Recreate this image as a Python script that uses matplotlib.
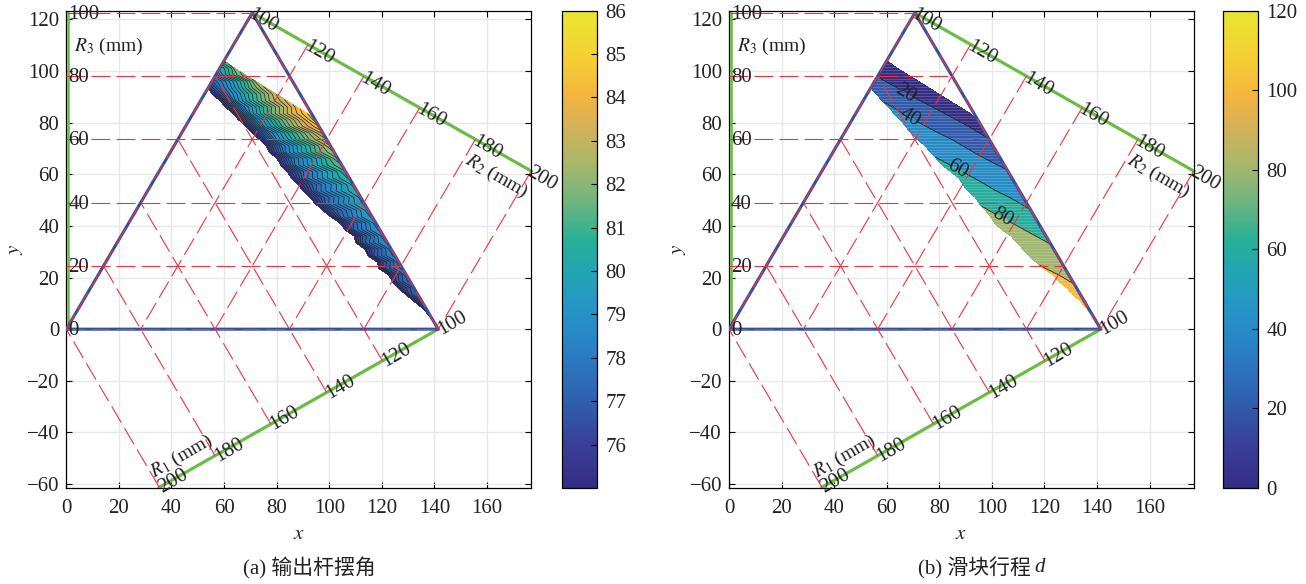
import numpy as np
import matplotlib
matplotlib.use('Agg')
import matplotlib.pyplot as plt
from matplotlib.colors import LinearSegmentedColormap, Normalize
from matplotlib.cm import ScalarMappable
from matplotlib.patches import Polygon

plt.rcParams['font.family'] = ['Liberation Serif', 'Noto Sans CJK SC']
plt.rcParams['mathtext.fontset'] = 'stix'
plt.rcParams['axes.unicode_minus'] = True

W, H = 1306, 584
INK = '#222222'

# rows of the feasible band, y value and x at the right edge
row_y = [103.5, 101, 98.5, 96, 93.5, 91, 88.5, 86, 83.5, 81, 78.5, 76, 73.5, 71,
         68.5, 66, 63.5, 61, 58.5, 56, 53.5, 51, 48.5, 46, 43.5, 41, 38.5, 36,
         33.5, 31, 28.5, 26, 23.5, 21, 18.5, 16, 13.5, 11, 8.5, 6, 3.5]
row_right = [60.5, 64, 67.9, 71.9, 75.8, 79.8, 83.7, 87.7, 91.6, 94.6, 96.1, 97.5, 99, 100.4,
             101.8, 103.3, 104.7, 106.2, 107.6, 109.1, 110.5, 112, 113.4, 114.8, 116.3, 117.7, 119.2, 120.6,
             122.1, 123.5, 124.9, 126.4, 127.8, 129.3, 130.7, 132.2, 133.6, 135, 136.5, 137.9, 139.4]

# x at the jagged left edge, one list per panel
left_a = [59.8, 58.3, 56.9, 55.4, 54, 55.5, 58.4, 60.6, 63.4, 65.6, 68.4, 70.6, 73.4, 76,
          77.3, 80.2, 81.6, 84.1, 85.6, 88.2, 90.1, 92.6, 94.8, 97.6, 100.6, 104.2, 106, 109.6,
          110, 113.6, 114.6, 118.2, 118.9, 122.6, 124, 126.2, 129, 132, 135, 137.4, 139.2]
left_b = [59.8, 58.3, 56.9, 55.4, 54, 56, 58.4, 60.8, 62.8, 65.4, 67.2, 69.4, 71.8, 74.6,
          76.8, 79, 81.2, 84.4, 87.6, 89, 91, 93.8, 95.4, 97.6, 99.6, 101.2, 103.8, 107.4,
          109.6, 111.8, 114, 116.8, 119.6, 123.4, 125.4, 128.6, 130.6, 133.6, 135.6, 137.8, 139.3]

# output rod swing angle, five samples across each row
angle_a = [
    [81.0, 81.3, 81.4, 81.5, 81.3], [80.0, 80.1, 80.5, 80.9, 81.6], [78.8, 79.9, 80.7, 81.5, 82.0],
    [77.4, 78.3, 79.5, 80.7, 82.3], [76.0, 78.0, 79.6, 81.3, 82.7], [75.3, 78.05, 79.8, 81.35, 83.0],
    [75.2, 78.75, 80.6, 82.25, 83.5], [75.2, 78.45, 80.4, 82.15, 84.0], [75.2, 79.2, 81.3, 83.15, 84.6],
    [75.2, 78.8, 80.9, 82.8, 84.8], [75.2, 79.05, 81.05, 82.85, 84.2], [75.2, 78.3, 80.15, 81.85, 83.6],
    [75.2, 78.55, 80.3, 81.85, 83.0], [75.2, 77.9, 79.55, 81.0, 82.6], [75.2, 78.25, 79.8, 81.2, 82.2],
    [75.2, 77.6, 79.05, 80.35, 81.8], [75.2, 77.95, 79.3, 80.55, 81.4], [75.2, 77.25, 78.55, 79.7, 81.0],
    [75.2, 77.65, 78.85, 79.95, 80.7], [75.2, 77.0, 78.2, 79.2, 80.4], [75.2, 77.45, 78.55, 79.55, 80.2],
    [75.2, 76.85, 77.9, 78.9, 80.0], [75.2, 77.35, 78.35, 79.3, 79.9], [75.2, 76.75, 77.75, 78.65, 79.7],
    [75.2, 77.15, 78.1, 79.0, 79.5], [75.2, 76.6, 77.5, 78.3, 79.3], [75.2, 77.0, 77.85, 78.65, 79.1],
    [75.2, 76.45, 77.25, 78.0, 78.9], [75.2, 76.85, 77.6, 78.3, 78.7], [75.2, 76.25, 77.0, 77.65, 78.5],
    [75.2, 76.7, 77.35, 78.0, 78.3], [75.2, 76.1, 76.75, 77.35, 78.1], [75.2, 76.55, 77.1, 77.65, 77.9],
    [75.2, 75.95, 76.5, 77.0, 77.7], [75.2, 76.35, 76.85, 77.3, 77.5], [75.2, 75.75, 76.2, 76.6, 77.2],
    [75.2, 76.15, 76.55, 76.9, 77.0], [75.2, 75.6, 75.9, 76.2, 76.7], [75.2, 75.85, 76.15, 76.35, 76.4],
    [75.2, 75.4, 75.6, 75.8, 76.1], [75.2, 75.44, 75.57, 75.69, 75.8],
]

# slider stroke d, three samples across each row
stroke_b = [
    [5, 5, 4.5], [11.3, 8.2, 5.3], [17.3, 11.5, 5.8], [25, 15, 6.2], [33.3, 18.5, 6.9],
    [36.5, 19.9, 7.3], [39.5, 21.8, 7.8], [41.9, 23.6, 8.4], [44.4, 25.6, 9], [46.5, 28, 10.5],
    [49.4, 32, 13.7], [51.6, 35.6, 17], [53.9, 39.2, 20.2], [55.6, 41.9, 24.5], [58.1, 44.8, 28.8],
    [60.7, 47.7, 33], [63.3, 50.4, 37.3], [65, 52.6, 41], [66.6, 54.9, 44.2], [70.5, 58.2, 47.5],
    [73.4, 61, 50.7], [75.6, 64.4, 53.9], [79.1, 68, 57.2], [81.5, 71.2, 60.4], [84.2, 74.6, 64.4],
    [87.3, 78.2, 68.1], [89.4, 81, 71.6], [90.3, 83.3, 75.6], [92.6, 85.9, 79.1], [95.1, 88.8, 82.7],
    [97.5, 91.7, 85.9], [99.2, 94.1, 89], [100.9, 96.6, 92.2], [102.2, 99, 95.4], [104.8, 101.8, 98.7],
    [107, 104.3, 101.7], [109, 106.8, 104.6], [110.7, 109.1, 107.5], [112.2, 111.3, 110.4],
    [114.1, 113.7, 113.3], [116, 116, 116],
]

levels_a = np.arange(75, 86.01, 0.25)
lines_a = np.arange(75.4, 86, 0.4)
levels_b = [0, 20, 40, 60, 80, 100, 120]
lines_b = [20, 40, 60, 80, 100]

r1_ticks = [100, 120, 140, 160, 180, 200]
r2_ticks = [100, 120, 140, 160, 180, 200]
r3_ticks = [0, 20, 40, 60, 80, 100]
x_ticks = [0, 20, 40, 60, 80, 100, 120, 140, 160]
y_ticks = [-60, -40, -20, 0, 20, 40, 60, 80, 100, 120]
ticks_a = [76, 77, 78, 79, 80, 81, 82, 83, 84, 85, 86]
ticks_b = [0, 20, 40, 60, 80, 100, 120]

side = 100 * np.sqrt(2)
top = (side / 2, side * np.sqrt(3) / 2)
step = side * np.sqrt(3) / 2 / 5   # spacing of the scale marks

parula = LinearSegmentedColormap.from_list('parula_print', [
    (0.0, '#352c84'), (0.09, '#3a3f98'), (0.18, '#2f5fae'), (0.28, '#2a7dc4'),
    (0.37, '#2594c7'), (0.45, '#22a4b4'), (0.52, '#28b096'), (0.60, '#6fb57e'),
    (0.68, '#a9b76c'), (0.76, '#d7b157'), (0.82, '#f3b440'), (0.90, '#f6cf34'),
    (1.0, '#e8e62f')])


def ax_rect(l, r, t, b):
    return [l / W, 1 - b / H, (r - l) / W, (b - t) / H]


def band_mesh(left, n):
    frac = np.linspace(0, 1, n)
    left = np.array(left)
    right = np.array(row_right)
    X = left[:, None] + (right - left)[:, None] * frac
    Y = np.repeat(np.array(row_y)[:, None], n, axis=1)
    return X, Y


def draw_frame(ax):
    red = dict(color='#ee3340', lw=0.8, dashes=(17, 5.5), zorder=4)
    # blue triangle
    ax.plot([0, side, top[0], 0], [0, 0, top[1], 0], color='#2f4f9f', lw=2.2, zorder=3)
    # scale lines
    c30, s30 = np.cos(np.pi / 6), np.sin(np.pi / 6)
    g = dict(color='#6cbb45', lw=2.3, zorder=2, clip_on=False)
    ax.plot([0.6, 0.6], [0, top[1]], color='#6cbb45', lw=1.9, zorder=2.8)
    ax.plot([side, side - 5 * step * c30], [0, -5 * step * s30], **g)
    ax.plot([top[0], top[0] + 5 * step * c30], [top[1], top[1] - 5 * step * s30], **g)

    lab = dict(fontsize=15, color=INK, zorder=6, annotation_clip=False)
    for v in r3_ticks:
        yy = (v / 20) * step
        ax.plot([0, side - yy / np.sqrt(3)], [yy, yy], **red)
        ax.annotate(str(v), (0, yy), xytext=(1.5, -1), textcoords='offset points',
                    ha='left', va='center', **lab)
    for v in r1_ticks:
        k = (v - 100) / 20 * step
        px, py = side - k * c30, -k * s30
        ex = side - (v - 100) / 100 * side
        ax.plot([px, ex / 2], [py, ex / 2 * np.sqrt(3)], **red)
        ax.annotate(str(v), (px, py), xytext=(10, 4), textcoords='offset points',
                    ha='center', va='center', rotation=30, rotation_mode='anchor', **lab)
    for v in r2_ticks:
        k = (v - 100) / 20 * step
        px, py = top[0] + k * c30, top[1] - k * s30
        ex = (v - 100) / 100 * side
        ax.plot([px, ex], [py, 0], **red)
        ax.annotate(str(v), (px, py), xytext=(8, -6), textcoords='offset points',
                    ha='center', va='center', rotation=-30, rotation_mode='anchor', **lab)
    ax.text(3, 109.5, r'$R_3$ (mm)', fontsize=14, color=INK, zorder=6, va='center')
    ax.text(32.5, -56, r'$R_1$ (mm)', fontsize=14, rotation=30, rotation_mode='anchor',
            color=INK, zorder=6, va='center')
    ax.text(152, 66, r'$R_2$ (mm)', fontsize=14, rotation=-30, rotation_mode='anchor',
            color=INK, zorder=6, va='center')

    ax.set_xlim(0, 176.7)
    ax.set_ylim(-61.5, 123.3)
    ax.set_xticks(x_ticks)
    ax.set_yticks(y_ticks)
    ax.set_yticklabels([('\u2212' + str(-v)) if v < 0 else str(v) for v in y_ticks])
    ax.tick_params(direction='in', length=4, width=0.8, top=True, right=True,
                   labelsize=15, labelcolor=INK, pad=5)
    ax.tick_params(axis='x', pad=8)
    ax.grid(True, color='#e8e8e8', lw=1.0)
    ax.set_axisbelow(True)
    ax.set_xlabel('$x$', fontsize=15, labelpad=5, color=INK)
    ax.set_ylabel('$y$', fontsize=15, labelpad=1, color=INK)
    for s in ax.spines.values():
        s.set_linewidth(0.9)


def draw_cbar(fig, rect, vmin, vmax, ticks):
    cax = fig.add_axes(rect)
    sm = ScalarMappable(norm=Normalize(vmin, vmax), cmap=parula)
    cb = fig.colorbar(sm, cax=cax)
    cb.set_ticks(ticks)
    cb.ax.tick_params(direction='in', length=4, width=0.8, labelsize=15, labelcolor=INK, pad=6)
    cb.outline.set_linewidth(0.9)


fig = plt.figure(figsize=(W / 100, H / 100), dpi=100)

# (a) swing angle
ax1 = fig.add_axes(ax_rect(66.3, 531, 10.7, 488))
Xa, Ya = band_mesh(left_a, 5)
ax1.contourf(Xa, Ya, np.array(angle_a), levels=levels_a, cmap=parula, zorder=1.5, extend='min')
ax1.contour(Xa, Ya, np.array(angle_a), levels=lines_a, colors='#222222', linewidths=0.5, zorder=1.6)
draw_frame(ax1)
draw_cbar(fig, ax_rect(562, 597, 10.7, 488), 75, 86, ticks_a)
fig.text(309 / W, 1 - 568 / H, '(a) 输出杆摆角', ha='center', va='center', fontsize=15, color=INK)

# (b) slider stroke, flat colour per band taken at the lower bound
ax2 = fig.add_axes(ax_rect(729, 1193.5, 10.7, 488))
Xb, Yb = band_mesh(left_b, 3)
Zb = np.array(stroke_b)
band_colors = [parula(v / 120) for v in levels_b[:-1]]
ax2.contourf(Xb, Yb, Zb, levels=levels_b, colors=band_colors, zorder=1.5)
# faint print stripes over the filled band
outline = Polygon(np.column_stack([left_b + row_right[::-1], row_y + row_y[::-1]]),
                  transform=ax2.transData, fc='none', ec='none')
ax2.add_patch(outline)
stripes = ax2.hlines(np.arange(row_y[-1], row_y[0], 1.1), 50, 142, color='#ffffff', alpha=0.22,
                     lw=0.6, zorder=1.55)
stripes.set_clip_path(outline)
cs = ax2.contour(Xb, Yb, Zb, levels=lines_b, colors='#1a1a1a', linewidths=0.6, zorder=1.6)
label_spots = [(67, 91), (68.8, 82), (86.7, 62), (103.8, 43)]
ax2.clabel(cs, levels=lines_b[:4], fmt='%d', fontsize=15, inline=True, inline_spacing=2,
           manual=label_spots, colors=INK, zorder=5)
draw_frame(ax2)
draw_cbar(fig, ax_rect(1223, 1258, 10.7, 488), 0, 120, ticks_b)
fig.text(974 / W, 1 - 568 / H, '(b) 滑块行程', ha='center', va='center', fontsize=15, color=INK)
fig.text(1040 / W, 1 - 568 / H, 'd', ha='center', va='center', fontsize=15, color=INK, style='italic')

fig.savefig('out.png', dpi=100)
